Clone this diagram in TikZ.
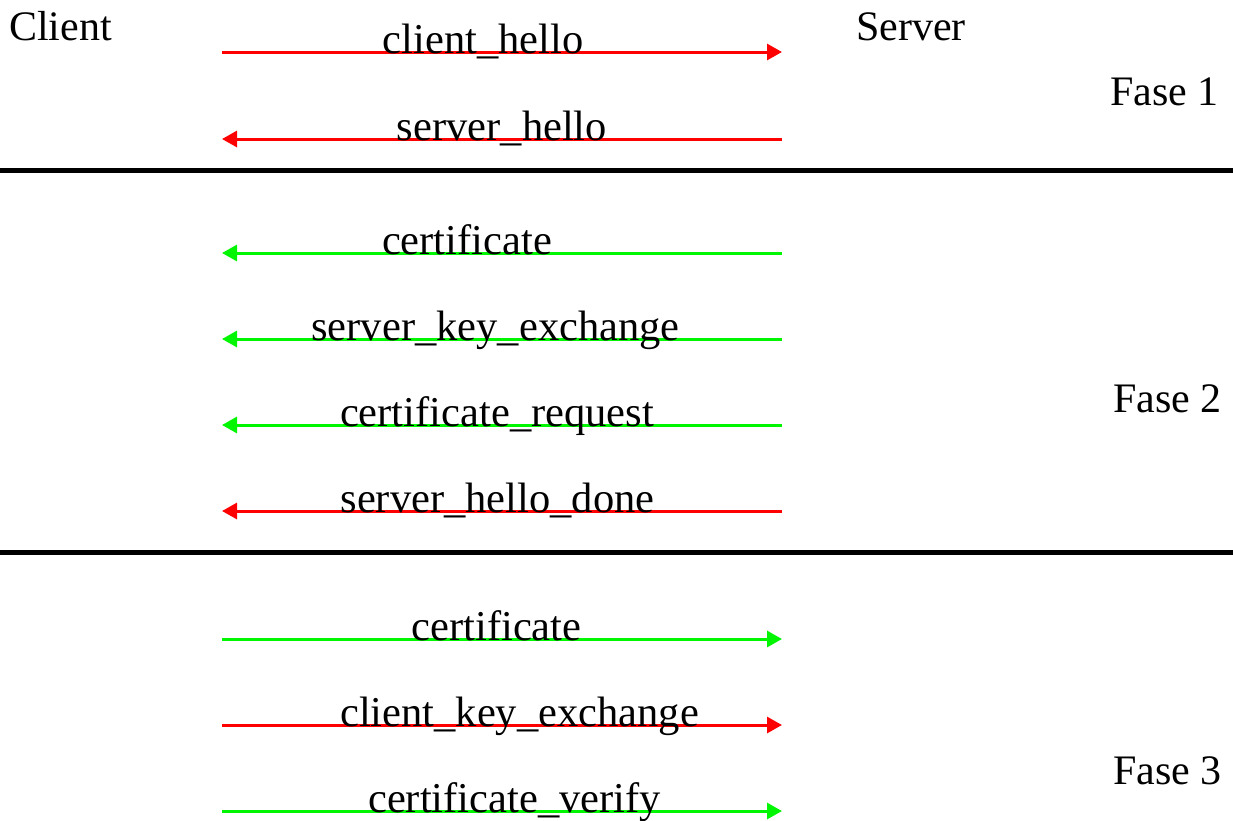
\documentclass[tikz,border=0pt]{standalone}
\usepackage{fontspec}
\setmainfont{Liberation Serif}
\usetikzlibrary{arrows.meta}
\definecolor{msgred}{RGB}{255,0,0}
\definecolor{msggreen}{RGB}{0,245,0}
\tikzset{
  txt/.style={inner sep=0pt, font=\fontsize{42}{50}\selectfont},
  msglabel/.style={inner sep=0pt, anchor=base, font=\fontsize{42.5}{50}\selectfont},
  msg/.style={line width=3pt, -{Triangle[length=15pt,width=16pt]}},
  phaseline/.style={line width=5pt, black},
}
\begin{document}
\begin{tikzpicture}[x=1pt, y=-1pt]
  \useasboundingbox (0,0) rectangle (1233,820);

  % party headings and phase names
  \node[txt, anchor=base west] (client) at (9,40) {Client};
  \node[txt, anchor=base west] (server) at (856,40) {Server};
  \node[txt, anchor=base west] (fase1) at (1110,105) {Fase 1};
  \node[txt, anchor=base west] (fase2) at (1113,412) {Fase 2};
  \node[txt, anchor=base west] (fase3) at (1113,784) {Fase 3};

  % phase separators
  \coordinate (sepAl) at (0,170.5);   \coordinate (sepAr) at (1233,170.5);
  \coordinate (sepBl) at (0,552);     \coordinate (sepBr) at (1233,552);
  \draw[phaseline] (sepAl) -- (sepAr);
  \draw[phaseline] (sepBl) -- (sepBr);

  % message end points: client side (c) and server side (s)
  \foreach \n/\y in {1/52, 2/139, 3/253, 4/339, 5/425, 6/511, 7/639, 8/725, 9/811}{
    \coordinate (c\n) at (222,\y);
    \coordinate (s\n) at (782,\y);
  }

  % phase 1
  \draw[msg, msgred]   (c1) -- (s1);
  \draw[msg, msgred]   (s2) -- (c2);
  % phase 2
  \draw[msg, msggreen] (s3) -- (c3);
  \draw[msg, msggreen] (s4) -- (c4);
  \draw[msg, msggreen] (s5) -- (c5);
  \draw[msg, msgred]   (s6) -- (c6);
  % phase 3
  \draw[msg, msggreen] (c7) -- (s7);
  \draw[msg, msgred]   (c8) -- (s8);
  \draw[msg, msggreen] (c9) -- (s9);

  % message names, set on the arrow lines
  \node[msglabel] (m1) at (483,53)   {client\_hello};
  \node[msglabel] (m2) at (502,140)  {server\_hello};
  \node[msglabel] (m3) at (467,254)  {certificate};
  \node[msglabel] (m4) at (495.5,340) {server\_key\_exchange};
  \node[msglabel] (m5) at (497,426)  {certificate\_request};
  \node[msglabel] (m6) at (497.5,512) {server\_hello\_done};
  \node[msglabel] (m7) at (496.5,640) {certificate};
  \node[msglabel] (m8) at (519.5,726) {client\_key\_exchange};
  \node[msglabel] (m9) at (514.5,812) {certificate\_verify};
\end{tikzpicture}
\end{document}
